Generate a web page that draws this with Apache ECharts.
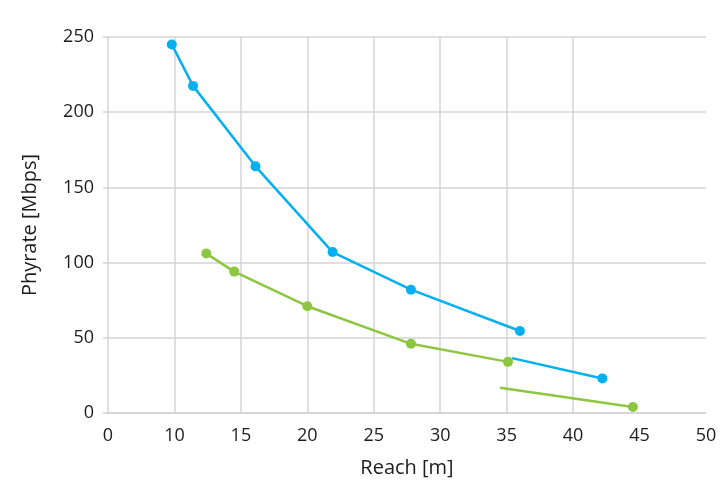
<!DOCTYPE html>
<html>
<head>
<meta charset="utf-8">
<script src="https://cdn.jsdelivr.net/npm/echarts@6/dist/echarts.min.js"></script>
<style>html,body{margin:0;padding:0;background:#fff;}#c{width:720px;height:486px;}</style>
</head>
<body>
<div id="c"></div>
<script>
// Tick labels as printed on the x axis (first tick printed as "0")
var xTickLabels = ['0', '10', '15', '20', '25', '30', '35', '40', '45', '50'];
var yTickLabels = ['0', '50', '100', '150', '200', '250'];

// Blue series (main run and separate tail segment)
var blueX = [9.8, 11.4, 16.1, 21.9, 27.8, 36.0];
var blueY = [245, 217.5, 164, 107, 82, 54.5];
var blueTailX = [35.4, 42.2];
var blueTailY = [36.5, 23];

// Green series (main run and separate tail segment)
var greenX = [12.4, 14.5, 20.0, 27.8, 35.1];
var greenY = [106, 94, 71, 46, 34];
var greenTailX = [34.5, 44.5];
var greenTailY = [16.8, 4];

var BLUE = '#00B0F0', GREEN = '#8DC641', GRID = '#D4D4D4', TXT = '#1c1c1c';
var FONT = '"Open Sans", "Noto Sans", sans-serif';

function pairs(xs, ys) { return xs.map(function (x, i) { return [x, ys[i]]; }); }
var T = 'rgba(0,0,0,0)';
var vColors = [T, GRID, GRID, GRID, GRID, GRID, GRID, GRID, T, T];

function lineSeries(data, color, tail, z) {
  return {
    type: 'line', data: data, z: z,
    symbol: tail ? function (v, p) { return p.dataIndex === 0 ? 'none' : 'circle'; } : 'circle',
    symbolSize: 10,
    showAllSymbol: true,
    lineStyle: { color: color, width: 2.5 },
    itemStyle: { color: color },
    emphasis: { disabled: true },
    animation: false
  };
}

var chart = echarts.init(document.getElementById('c'), null, { renderer: 'canvas' });
chart.setOption({
  backgroundColor: '#fff',
  animation: false,
  grid: { left: 108, right: 14, top: 37, bottom: 73, containLabel: false },
  xAxis: {
    type: 'value', min: 5, max: 50, interval: 5,
    name: 'Reach [m]', nameLocation: 'middle', nameGap: 45,
    nameTextStyle: { fontFamily: FONT, fontSize: 20, color: TXT },
    axisLine: { show: true, lineStyle: { color: GRID, width: 1.5 } },
    axisTick: { show: false },
    axisLabel: {
      fontFamily: FONT, fontSize: 18, color: TXT, margin: 14,
      formatter: function (v) { return xTickLabels[Math.round((v - 5) / 5)]; }
    },
    splitLine: { show: true, lineStyle: { color: vColors, width: 1.5 } }
  },
  yAxis: {
    type: 'value', min: 0, max: 250, interval: 50,
    name: 'Phyrate [Mbps]', nameLocation: 'middle', nameGap: 68, nameRotate: 90,
    nameTextStyle: { fontFamily: FONT, fontSize: 20, color: TXT },
    axisLine: { show: true, lineStyle: { color: GRID, width: 1.5 } },
    axisTick: { show: true, length: 5, lineStyle: { color: GRID, width: 1.5 } },
    axisLabel: {
      fontFamily: FONT, fontSize: 18, color: TXT, margin: 14,
      formatter: function (v) { return yTickLabels[Math.round(v / 50)]; }
    },
    splitLine: { show: true, lineStyle: { color: GRID, width: 1.5 } }
  },
  series: [
    lineSeries(pairs(blueX, blueY), BLUE, false, 2),
    lineSeries(pairs(blueTailX, blueTailY), BLUE, true, 2),
    lineSeries(pairs(greenX, greenY), GREEN, false, 3),
    lineSeries(pairs(greenTailX, greenTailY), GREEN, true, 3)
  ]
});
</script>
</body>
</html>
